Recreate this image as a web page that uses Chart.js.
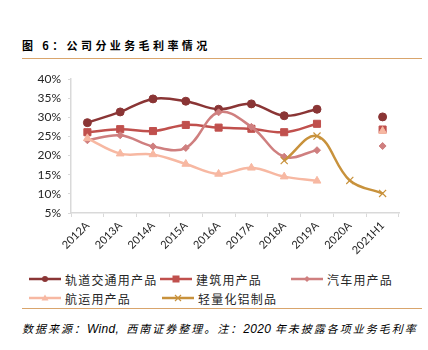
<!DOCTYPE html>
<html>
<head>
<meta charset="utf-8">
<script src="https://cdn.jsdelivr.net/npm/chart.js@4.4.0/dist/chart.umd.min.js"></script>
<style>
    body { margin: 0; background: #fff; width: 428px; height: 350px; position: relative; overflow: hidden; font-family: 'Noto Sans CJK SC', sans-serif; }
    .title { position: absolute; left: 22px; top: 37px; font-size: 11px; font-weight: bold; letter-spacing: 3.4px; color: #000; white-space: nowrap; }
    .rule { position: absolute; left: 22px; width: 400px; height: 1px; background: #D9A56C; }
    .chart-box { position: absolute; left: 0; top: 62px; width: 428px; height: 200px; }
    .legend-item { position: absolute; height: 14px; display: flex; align-items: center; font-size: 12px; letter-spacing: 1.2px; color: #262626; white-space: nowrap; }
    .legend-item svg { margin-right: 4px; }
    .source { position: absolute; left: 22px; top: 320px; font-size: 11px; font-style: italic; letter-spacing: 2px; color: #000; white-space: nowrap; }
    .source .lat { font-family: 'Liberation Sans', Arial, sans-serif; letter-spacing: 0.3px; font-size: 12px; }
</style>
</head>
<body>
<div class="title">图 6：公司分业务毛利率情况</div>
<div class="rule" style="top: 58px;"></div>
<div class="chart-box"><canvas id="marginChart" width="428" height="200"></canvas></div>
<div id="legend"></div>
<div class="rule" style="top: 308px;"></div>
<div class="source">数据来源：<span class="lat">Wind,&nbsp; </span>西南证券整理。注：<span class="lat">2020 </span>年未披露各项业务毛利率</div>

<script>
// --- Data (gross margin, %) ---
const years = ['2012A', '2013A', '2014A', '2015A', '2016A', '2017A', '2018A', '2019A', '2020A', '2021H1'];
const railValues = [28.6, 31.4, 34.8, 34.2, 32.1, 33.5, 30.4, 32.1, null, 30.1];
const buildValues = [26.1, 26.9, 26.4, 28.0, 27.3, 27.0, 26.1, 28.3, null, 26.8];
const autoValues = [24.0, 25.3, 22.4, 22.0, 31.3, 27.5, 19.7, 21.4, null, 22.5];
const shipValues = [24.5, 20.5, 20.3, 17.8, 15.2, 16.8, 14.5, 13.4, null, 26.4];
const alumValues = [null, null, null, null, null, null, 18.7, 25.1, 13.5, 10.1];
const yTicks = [5, 10, 15, 20, 25, 30, 35, 40];

const seriesNames = ['轨道交通用产品', '建筑用产品', '汽车用产品', '航运用产品', '轻量化铝制品'];
const seriesColors = ['#8A3535', '#C0504D', '#CF7F7F', '#F7B8A2', '#C8923C'];
const seriesStyles = ['circle', 'rect', 'rectRot', 'triangle', 'crossRot'];
const seriesRadius = [4, 5, 3.5, 4.5, 5];
const seriesData = [railValues, buildValues, autoValues, shipValues, alumValues];

const datasets = seriesData.map((values, i) => ({
    label: seriesNames[i],
    data: values,
    borderColor: seriesColors[i],
    backgroundColor: seriesColors[i],
    borderWidth: 2.5,
    tension: 0.38,
    spanGaps: false,
    pointStyle: seriesStyles[i],
    pointRadius: seriesRadius[i],
    pointBorderWidth: i === 4 ? 1.2 : 1,
    pointBackgroundColor: seriesColors[i],
    pointBorderColor: seriesColors[i],
    order: 5 - i
}));

const axisGray = '#D9D9D9';
const tickFont = { family: "Lato, 'Open Sans', sans-serif", size: 12 };

new Chart(document.getElementById('marginChart'), {
    type: 'line',
    data: { labels: years, datasets: datasets },
    options: {
        responsive: false,
        animation: false,
        devicePixelRatio: 1,
        layout: { padding: { left: 0, top: 17, right: 29, bottom: 0 } },
        plugins: {
            legend: { display: false },
            tooltip: { enabled: false }
        },
        scales: {
            x: {
                offset: true,
                grid: { display: true, drawOnChartArea: false, offset: true, color: axisGray, tickLength: 4 },
                border: { color: axisGray, width: 1.5 },
                ticks: { autoSkip: false, minRotation: 45, maxRotation: 45, padding: 2, color: '#262626', font: { family: "Lato, 'Open Sans', sans-serif", size: 11 } },
                afterFit: (scale) => { scale.height = 49; }
            },
            y: {
                min: 5,
                max: 40,
                afterBuildTicks: (scale) => { scale.ticks = yTicks.map(v => ({ value: v })); },
                grid: { display: true, drawOnChartArea: false, color: axisGray, tickLength: 3 },
                border: { color: axisGray, width: 1.5 },
                ticks: { autoSkip: false, padding: 7, color: '#262626', font: tickFont, callback: (v) => v + '%' },
                afterFit: (scale) => { scale.width = 71; }
            }
        }
    }
});

// --- HTML legend (two rows, fixed columns like the reference) ---
const legendPos = [
    { left: 29, top: 272 }, { left: 160, top: 272 }, { left: 291, top: 272 },
    { left: 29, top: 291 }, { left: 162, top: 291 }
];

function markerSvg(i) {
    const c = seriesColors[i];
    let mark = '';
    if (seriesStyles[i] === 'circle') mark = `<circle cx="16" cy="7" r="3" fill="${c}"/>`;
    if (seriesStyles[i] === 'rect') mark = `<rect x="12.5" y="3.5" width="7" height="7" fill="${c}"/>`;
    if (seriesStyles[i] === 'rectRot') mark = `<polygon points="16,4 19,7 16,10 13,7" fill="${c}"/>`;
    if (seriesStyles[i] === 'triangle') mark = `<polygon points="16,3.5 19.5,9.5 12.5,9.5" fill="${c}"/>`;
    if (seriesStyles[i] === 'crossRot') mark = `<path d="M13,4 L19,10 M19,4 L13,10" stroke="${c}" stroke-width="1.2"/>`;
    return `<svg width="32" height="14"><line x1="0" y1="7" x2="32" y2="7" stroke="${c}" stroke-width="2.5"/>${mark}</svg>`;
}

const legendEl = document.getElementById('legend');
seriesNames.forEach((name, i) => {
    const item = document.createElement('div');
    item.className = 'legend-item';
    item.style.left = legendPos[i].left + 'px';
    item.style.top = legendPos[i].top + 'px';
    item.innerHTML = markerSvg(i) + '<span>' + name + '</span>';
    legendEl.appendChild(item);
});
</script>
</body>
</html>
